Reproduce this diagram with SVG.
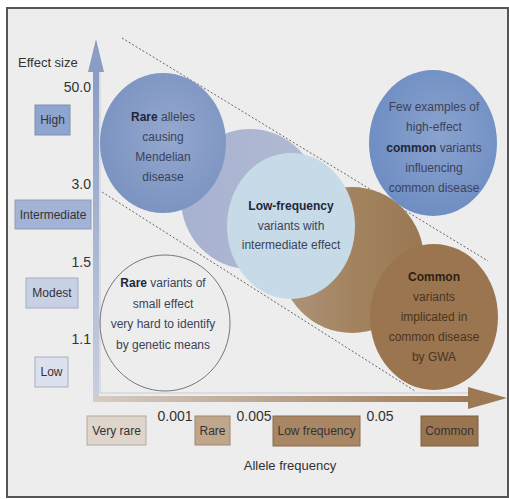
<svg xmlns="http://www.w3.org/2000/svg" width="509" height="499" viewBox="0 0 509 499">
<defs>
<style>
text{font-family:"Liberation Sans",Arial,sans-serif;}
.t{font-size:12px;text-anchor:middle;fill:#3c4258;}
.tb{font-weight:bold;fill:#22263a;}
.tc{font-size:12px;text-anchor:middle;fill:#4a3420;}
.tcb{font-weight:bold;fill:#2e1e10;}
.ax{font-size:13px;fill:#333;}
.num{font-size:14px;fill:#333;}
.bx{font-size:12px;text-anchor:middle;fill:#333;}
.dash{stroke:#666;stroke-width:1;stroke-dasharray:2 2;fill:none;}
</style>
<linearGradient id="gy" x1="0" y1="0" x2="0" y2="1">
<stop offset="0" stop-color="#889cc4"/><stop offset="1" stop-color="#c9cfe0"/>
</linearGradient>
<linearGradient id="gx" x1="0" y1="0" x2="1" y2="0">
<stop offset="0" stop-color="#d6cdc4"/><stop offset="1" stop-color="#9c7853"/>
</linearGradient>
<radialGradient id="gblue" cx="0.55" cy="0.45" r="0.6">
<stop offset="0" stop-color="#94a8cf"/><stop offset="1" stop-color="#7a92c0"/>
</radialGradient>
<radialGradient id="gfew" cx="0.55" cy="0.45" r="0.6">
<stop offset="0" stop-color="#8aa3cf"/><stop offset="1" stop-color="#6d8cc2"/>
</radialGradient>
<linearGradient id="glav" x1="0" y1="0" x2="1" y2="0">
<stop offset="0" stop-color="#a7b2d1"/><stop offset="1" stop-color="#b3b9d2"/>
</linearGradient>
<linearGradient id="gmb" x1="0" y1="0" x2="1" y2="0">
<stop offset="0" stop-color="#ae957c"/><stop offset="0.5" stop-color="#a3835f"/><stop offset="1" stop-color="#9a7753"/>
</linearGradient>
</defs>
<rect x="0" y="0" width="509" height="499" fill="#ffffff"/>
<rect x="7" y="8" width="501" height="489" fill="#ededed" stroke="#555" stroke-width="2"/>

<g id="connectors">
<line class="dash" x1="122" y1="38" x2="488" y2="261"/>
<line class="dash" x1="102" y1="192" x2="415" y2="391"/>
<path d="M100 72 V393 H470" fill="none" stroke="#d4d6de" stroke-width="1.5"/>
<rect x="93" y="70" width="6" height="332" fill="url(#gy)"/>
<polygon points="96,39 104,72 88,72" fill="#8a9dc4"/>
<rect x="93" y="396" width="380" height="6" fill="url(#gx)"/>
<polygon points="507,398 468,387 468,409" fill="#9c7853"/>
</g>

<g id="axis-labels">
<text class="ax" x="18" y="67">Effect size</text>
<text class="num" x="91" y="92" text-anchor="end">50.0</text>
<text class="num" x="91" y="189" text-anchor="end">3.0</text>
<text class="num" x="91" y="267" text-anchor="end">1.5</text>
<text class="num" x="91" y="344" text-anchor="end">1.1</text>
<text class="num" x="175" y="421" text-anchor="middle">0.001</text>
<text class="num" x="254" y="421" text-anchor="middle">0.005</text>
<text class="num" x="380" y="421" text-anchor="middle">0.05</text>
<text class="ax" x="290" y="470" text-anchor="middle">Allele frequency</text>
</g>

<g id="box-high"><rect x="35" y="105" width="35" height="30" fill="#8ea5cf" stroke="#7e8fb0"/><text class="bx" x="52.5" y="124" fill="#2b3450">High</text></g>
<g id="box-intermediate"><rect x="15" y="200" width="76" height="29" fill="#a3b3d6" stroke="#8f9dbd"/><text class="bx" x="53" y="219">Intermediate</text></g>
<g id="box-modest"><rect x="26" y="278" width="52" height="30" fill="#c7d0e5" stroke="#a4acc2"/><text class="bx" x="52" y="297">Modest</text></g>
<g id="box-low"><rect x="35" y="357" width="33" height="30" fill="#dde1ee" stroke="#a8adbd"/><text class="bx" x="51.5" y="376">Low</text></g>

<g id="box-veryrare"><rect x="87" y="416" width="59" height="29" fill="#ded6cc" stroke="#b3aaa0"/><text class="bx" x="116.5" y="435">Very rare</text></g>
<g id="box-rare"><rect x="195" y="416" width="35" height="29" fill="#c0a68b" stroke="#9e8870"/><text class="bx" x="212.5" y="435">Rare</text></g>
<g id="box-lowfreq"><rect x="273" y="416" width="87" height="30" fill="#a98764" stroke="#8a6d50"/><text class="bx" x="316.5" y="435">Low frequency</text></g>
<g id="box-common"><rect x="421" y="416" width="57" height="30" fill="#9a7650" stroke="#7d5f40"/><text class="bx" x="449.5" y="435">Common</text></g>

<g id="circle-lavender"><ellipse cx="250" cy="199" rx="69" ry="70" fill="url(#glav)"/></g>
<g id="circle-midbrown"><ellipse cx="352" cy="260" rx="72" ry="73" fill="url(#gmb)"/></g>

<g id="node-rare-alleles">
<ellipse cx="163" cy="143" rx="63" ry="70" fill="url(#gblue)"/>
<text class="t" x="163" y="121"><tspan class="tb">Rare</tspan> alleles</text>
<text class="t" x="163" y="141">causing</text>
<text class="t" x="163" y="161">Mendelian</text>
<text class="t" x="163" y="181">disease</text>
</g>

<g id="node-low-frequency">
<ellipse cx="291" cy="226" rx="64" ry="73" fill="#c6dbe7"/>
<text class="t" x="291" y="210"><tspan class="tb">Low-frequency</tspan></text>
<text class="t" x="291" y="230">variants with</text>
<text class="t" x="291" y="249">intermediate effect</text>
</g>

<g id="node-common">
<ellipse cx="434" cy="317" rx="64" ry="73" fill="#9b7550"/>
<text class="tc" x="434" y="281"><tspan class="tcb">Common</tspan></text>
<text class="tc" x="434" y="301">variants</text>
<text class="tc" x="434" y="321">implicated in</text>
<text class="tc" x="434" y="341">common disease</text>
<text class="tc" x="434" y="361">by GWA</text>
</g>

<g id="node-few-examples">
<ellipse cx="433" cy="143" rx="64" ry="73" fill="url(#gfew)"/>
<text class="t" x="434" y="111">Few examples of</text>
<text class="t" x="434" y="131">high-effect</text>
<text class="t" x="434" y="152"><tspan class="tb">common</tspan> variants</text>
<text class="t" x="434" y="172">influencing</text>
<text class="t" x="434" y="192">common disease</text>
</g>

<g id="node-rare-variants">
<ellipse cx="165" cy="323" rx="65" ry="68" fill="none" stroke="#777" stroke-width="1"/>
<text class="t" x="163" y="287" fill="#444"><tspan class="tb">Rare</tspan> variants of</text>
<text class="t" x="163" y="308" fill="#444">small effect</text>
<text class="t" x="163" y="328" fill="#444">very hard to identify</text>
<text class="t" x="163" y="349" fill="#444">by genetic means</text>
</g>
</svg>
